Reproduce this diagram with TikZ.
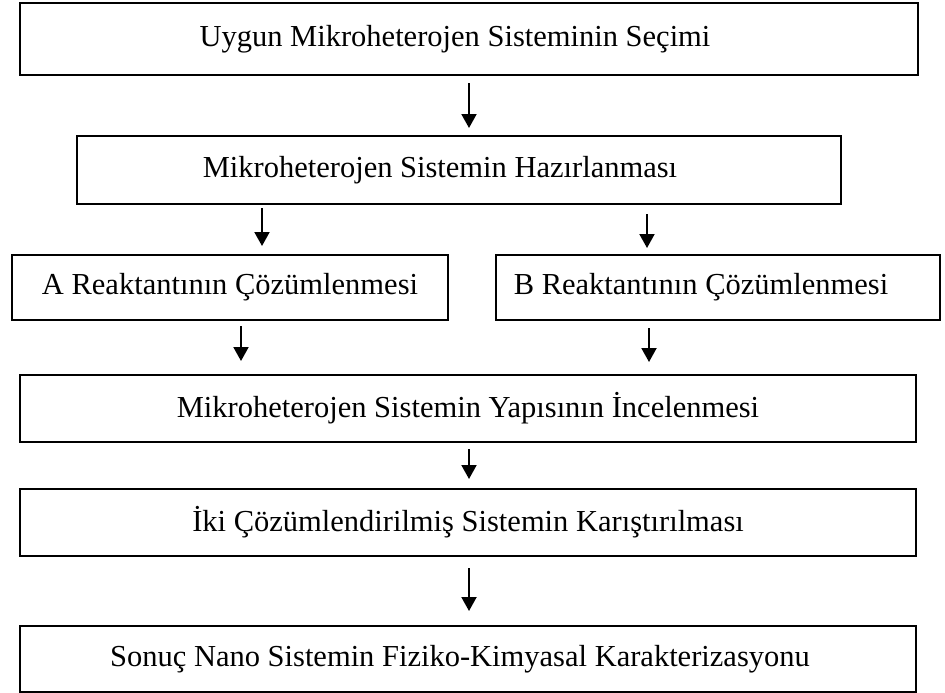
\documentclass[tikz,border=0pt]{standalone}
\usepackage{fontspec}
\setmainfont{Liberation Serif}
\usetikzlibrary{arrows.meta}
\usetikzlibrary{positioning}

\begin{document}
\begin{tikzpicture}[x=1pt,y=-1pt,
	kutu/.style={draw,line width=2pt,inner sep=0pt,font=\fontsize{30.5}{34}\selectfont},
	sola/.style={execute at begin node=\hspace*{-#1}},
	ok/.style={-{Triangle[width=15pt,length=14pt]},line width=2pt}]

	\useasboundingbox (0,0) rectangle (945,693);

	% kutular
	\node [kutu,sola=28pt,minimum width=898,minimum height=72] (secim) at (469,39) {Uygun Mikroheterojen Sisteminin Seçimi};

	\node [kutu,sola=38pt,minimum width=764,minimum height=68] (hazirlama) at (459,170) {Mikroheterojen Sistemin Hazırlanması};

	\node [kutu,minimum width=436,minimum height=65] (cozA) at (230,287.5) {A Reaktantının Çözümlenmesi};

	\node [kutu,sola=34pt,minimum width=444,minimum height=65] (cozB) at (718,287.5) {B Reaktantının Çözümlenmesi};

	\node [kutu,minimum width=896,minimum height=67] (yapi) at (468,408.5) {Mikroheterojen Sistemin Yapısının İncelenmesi};

	\node [kutu,minimum width=896,minimum height=67] (karistirma) at (468,522.5) {İki Çözümlendirilmiş Sistemin Karıştırılması};

	\node [kutu,sola=16pt,minimum width=896,minimum height=66] (karakter) at (468,659) {Sonuç Nano Sistemin Fiziko-Kimyasal Karakterizasyonu};

	% oklar
	\draw [ok,shorten <=7pt,shorten >=7pt] (secim.south -| 469,0) -- (hazirlama.north -| 469,0);

	\draw [ok,shorten <=3pt,shorten >=8pt] (hazirlama.south -| 262,0) -- (cozA.north -| 262,0);

	\draw [ok,shorten <=9pt,shorten >=6pt] (hazirlama.south -| 647,0) -- (cozB.north -| 647,0);

	\draw [ok,shorten <=5pt,shorten >=13pt] (cozA.south -| 241,0) -- (yapi.north -| 241,0);

	\draw [ok,shorten <=7pt,shorten >=12pt] (cozB.south -| 649,0) -- (yapi.north -| 649,0);

	\draw [ok,shorten <=6pt,shorten >=9pt] (yapi.south -| 469,0) -- (karistirma.north -| 469,0);

	\draw [ok,shorten <=11pt,shorten >=14pt] (karistirma.south -| 469,0) -- (karakter.north -| 469,0);

\end{tikzpicture}
\end{document}
